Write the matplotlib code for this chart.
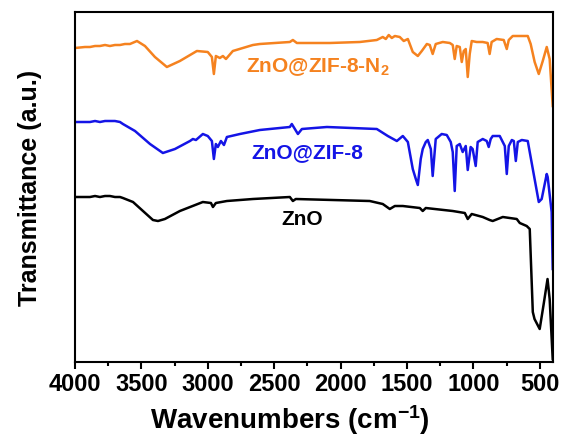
import matplotlib
matplotlib.use('Agg')
import matplotlib.pyplot as plt
from matplotlib.ticker import MultipleLocator

plt.rcParams['font.family'] = 'Liberation Sans'
plt.rcParams['font.weight'] = 'bold'
plt.rcParams['axes.labelweight'] = 'bold'
plt.rcParams['mathtext.fontset'] = 'custom'
plt.rcParams['mathtext.bf'] = 'Liberation Sans:bold'
plt.rcParams['mathtext.rm'] = 'Liberation Sans:bold'
plt.rcParams['mathtext.default'] = 'bf'

# FTIR spectra (wavenumber in cm-1, transmittance in a.u.)
wn_zif_n2 = [4000, 3925, 3887, 3849, 3812, 3774, 3737, 3699, 3661, 3624, 3586, 3533,
             3473, 3398, 3308, 3210, 3082, 3000, 2969, 2954, 2939, 2909, 2886, 2863,
             2811, 2660, 2608, 2382, 2359, 2329, 2081, 1855, 1727, 1682, 1659, 1637,
             1614, 1591, 1554, 1524, 1493, 1456, 1418, 1388, 1350, 1328, 1306, 1283,
             1230, 1177, 1155, 1140, 1125, 1102, 1087, 1072, 1057, 1042, 1027, 1012,
             975, 929, 892, 877, 862, 824, 771, 748, 733, 703, 650, 590, 568, 538,
             507, 477, 447, 425, 402]
t_zif_n2 = [314, 315, 315, 316, 316, 317, 316, 317, 317, 318, 318, 321,
            316, 305, 295, 301, 311, 310, 305, 288, 306, 304, 306, 303,
            311, 317, 318, 320, 322, 319, 319, 320, 322, 325, 323, 327,
            324, 326, 325, 321, 323, 310, 306, 311, 318, 317, 308, 318,
            320, 319, 317, 303, 316, 315, 300, 311, 313, 285, 308, 321,
            320, 320, 319, 308, 320, 323, 322, 313, 322, 326, 326, 326, 318, 300,
            288, 301, 315, 303, 256]

wn_zif = [4000, 3925, 3887, 3849, 3812, 3774, 3737, 3699, 3661, 3639, 3548, 3435,
          3338, 3247, 3134, 3112, 3089, 3037, 3000, 2969, 2954, 2939, 2924, 2901,
          2878, 2856, 2758, 2608, 2382, 2367, 2344, 2321, 2291, 2103, 1727, 1644,
          1576, 1531, 1493, 1456, 1433, 1418, 1396, 1381, 1358, 1343, 1320, 1306,
          1283, 1238, 1200, 1170, 1155, 1140, 1125, 1102, 1080, 1057, 1042, 1020,
          1005, 982, 967, 929, 899, 884, 869, 854, 801, 763, 748, 733, 710, 695,
          680, 665, 635, 590, 552, 507, 485, 447, 440, 410, 402]
t_zif = [240, 240, 240, 241, 240, 241, 241, 241, 240, 238, 231, 218,
         209, 213, 221, 223, 222, 228, 226, 221, 203, 218, 215, 221,
         217, 225, 228, 232, 235, 238, 233, 228, 233, 235, 233, 226,
         221, 226, 220, 193, 183, 177, 203, 213, 220, 222, 213, 186,
         223, 228, 227, 220, 210, 171, 216, 218, 210, 216, 192, 215,
         213, 196, 220, 223, 221, 215, 223, 226, 226, 216, 188, 216, 222, 221,
         201, 220, 222, 221, 193, 160, 163, 188, 185, 150, 93]

wn_zno = [4000, 3925, 3887, 3849, 3812, 3774, 3737, 3699, 3661, 3639, 3563, 3488,
          3413, 3375, 3323, 3210, 3037, 2976, 2961, 2939, 2856, 2660, 2382, 2359,
          2337, 1780, 1682, 1629, 1591, 1531, 1403, 1381, 1358, 1155, 1064, 1042,
          1012, 929, 877, 854, 778, 673, 650, 598, 575, 552, 539, 500, 470, 441,
          425, 402]
t_zno = [165, 165, 165, 166, 165, 166, 166, 165, 165, 164, 160, 151,
         142, 141, 143, 151, 160, 159, 155, 159, 161, 163, 165, 161,
         163, 161, 158, 153, 156, 156, 154, 151, 154, 151, 149, 143,
         148, 145, 142, 141, 145, 143, 139, 136, 133, 50, 43, 33, 58, 83,
         63, 3]

fig = plt.figure(figsize=(5.63, 4.39), dpi=100)
ax = fig.add_axes([0.1332, 0.1731, 0.8490, 0.7973])

ax.plot(wn_zno, t_zno, color='black', lw=1.8)
ax.plot(wn_zif, t_zif, color='#1414E6', lw=1.8)
ax.plot(wn_zif_n2, t_zif_n2, color='#F5821F', lw=1.8)

ax.text(2171, 291, r'ZnO@ZIF-8-N$_2$', color='#F5821F', fontsize=15,
        ha='center', va='baseline')
ax.text(2254, 205, 'ZnO@ZIF-8', color='#1414E6', fontsize=15,
        ha='center', va='baseline')
ax.text(2291, 138, 'ZnO', color='black', fontsize=15,
        ha='center', va='baseline')

ax.set_xlim(4000, 400)
ax.set_ylim(0, 350)
ax.set_yticks([])
ax.xaxis.set_major_locator(MultipleLocator(500))
ax.xaxis.set_minor_locator(MultipleLocator(250))
ax.tick_params(axis='x', which='major', direction='out', length=5, width=1.5,
               labelsize=17, pad=2)
ax.tick_params(axis='x', which='minor', direction='out', length=3, width=1.5)
for s in ax.spines.values():
    s.set_linewidth(1.5)

ax.set_xlabel(r'Wavenumbers (cm$^{-1}$)', fontsize=20, fontweight='bold')
ax.set_ylabel('Transmittance (a.u.)', fontsize=18, fontweight='bold')
ax.xaxis.set_label_coords(0.45, -0.115)
ax.yaxis.set_label_coords(-0.068, 0.5)

fig.savefig('out.png', dpi=100)
